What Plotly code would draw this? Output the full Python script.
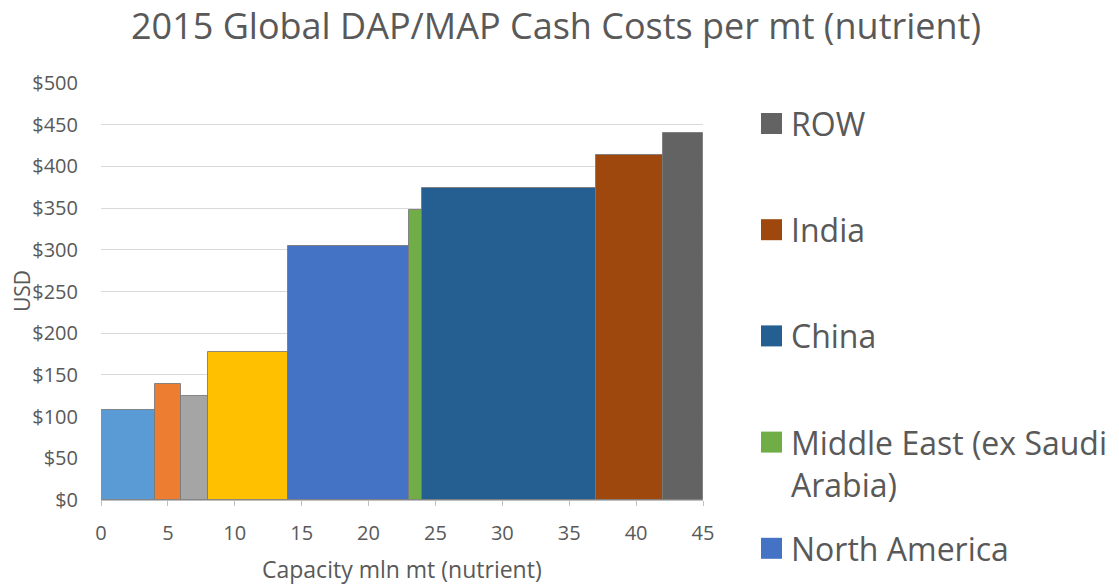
import numpy as np
import plotly.graph_objects as go

# cost curve data: capacity (mln mt nutrient) per producer group and cash cost (USD/mt)
regions = ["Series 1", "Series 2", "Series 3", "Series 4",
           "North America", "Middle East (ex Saudi<br>Arabia)", "China", "India", "ROW"]
capacity = [4, 2, 2, 6, 9, 1, 13, 5, 3]
cost = [108, 139, 125, 178, 305, 348, 374, 414, 440]
colors = ["#5B9BD5", "#ED7D31", "#A5A5A5", "#FFC000", "#4472C4",
          "#70AD47", "#255E91", "#9E480E", "#636363"]
# only the last five entries are visible in the (cropped) legend
legend_visible = [False, False, False, False, True, True, True, True, True]

x_ticks = list(range(0, 46, 5))
y_ticks = list(range(0, 501, 50))
y_labels = ["$" + str(v) for v in y_ticks]

TEXT = "#595959"
FONT = "Open Sans"

starts = np.concatenate([[0], np.cumsum(capacity)[:-1]])

fig = go.Figure()
for name, x0, w, c, col in zip(regions, starts, capacity, cost, colors):
    fig.add_trace(go.Bar(
        x=[x0], y=[c], width=[w], offset=0,
        name=name.replace("<br>", " "),
        marker=dict(color=col, line=dict(color="rgba(120,120,120,0.85)", width=1)),
        showlegend=False,
        hovertemplate="%{fullData.name}<br>$%{y}<extra></extra>",
    ))

# the page body has an 8px margin, so work in window pixels and shift back
OFF = 8
FW, FH = 1119 - OFF, 584 - OFF
L, R, T, B = 101 - OFF, 703 - OFF, 83 - OFF, 500 - OFF
W, H = R - L, B - T


def px_x(p):
    return (p - OFF - L) / W


def px_y(p):
    return (B - (p - OFF)) / H


# hand-built legend (Excel-style big squares), reversed order
shapes = []
annotations = []
items = [(n, c) for n, c, v in zip(regions, colors, legend_visible) if v][::-1]
for i, (name, col) in enumerate(items):
    cy = 123.5 + i * 106.2
    shapes.append(dict(type="rect", xref="paper", yref="paper",
                       x0=px_x(761), x1=px_x(782), y0=px_y(cy + 10.5), y1=px_y(cy - 10.5),
                       fillcolor=col, line=dict(width=0)))
    nlines = name.count("<br>") + 1
    annotations.append(dict(text=name, xref="paper", yref="paper",
                            x=px_x(789), y=px_y(cy + (nlines - 1) * 21),
                            xanchor="left", yanchor="middle", align="left",
                            showarrow=False, font=dict(size=32, color=TEXT, family=FONT)))

annotations.append(dict(text="USD", xref="paper", yref="paper",
                        x=px_x(22), y=px_y(291), textangle=-90,
                        xanchor="center", yanchor="middle", showarrow=False,
                        font=dict(size=21, color=TEXT, family=FONT)))
annotations.append(dict(text="Capacity mln mt (nutrient)", xref="paper", yref="paper",
                        x=px_x(402), y=px_y(569), xanchor="center", yanchor="middle",
                        showarrow=False, font=dict(size=23, color=TEXT, family=FONT)))

fig.update_layout(
    width=FW, height=FH,
    margin=dict(l=L, r=FW - R, t=T, b=FH - B),
    paper_bgcolor="white", plot_bgcolor="white",
    font=dict(family=FONT, color=TEXT, size=20),
    title=dict(text="2015 Global DAP/MAP Cash Costs per mt (nutrient)",
               x=(556 - OFF) / FW, xanchor="center", y=1 - (26 - OFF) / FH, yanchor="middle",
               font=dict(size=36, color=TEXT, family=FONT)),
    barmode="overlay",
    bargap=0,
    showlegend=False,
    xaxis=dict(range=[0, 45], tickvals=x_ticks, showgrid=False,
               showline=True, linecolor="#BFBFBF", linewidth=1,
               ticks="outside", ticklen=5, tickcolor="#BFBFBF",
               ticklabelstandoff=10, zeroline=False),
    yaxis=dict(range=[0, 500], tickvals=y_ticks, ticktext=y_labels,
               showgrid=True, gridcolor="#D9D9D9", gridwidth=1,
               showline=False, zeroline=False, ticks="",
               ticklabelstandoff=22),
    shapes=shapes,
    annotations=annotations,
)

fig.write_html("out.html")
